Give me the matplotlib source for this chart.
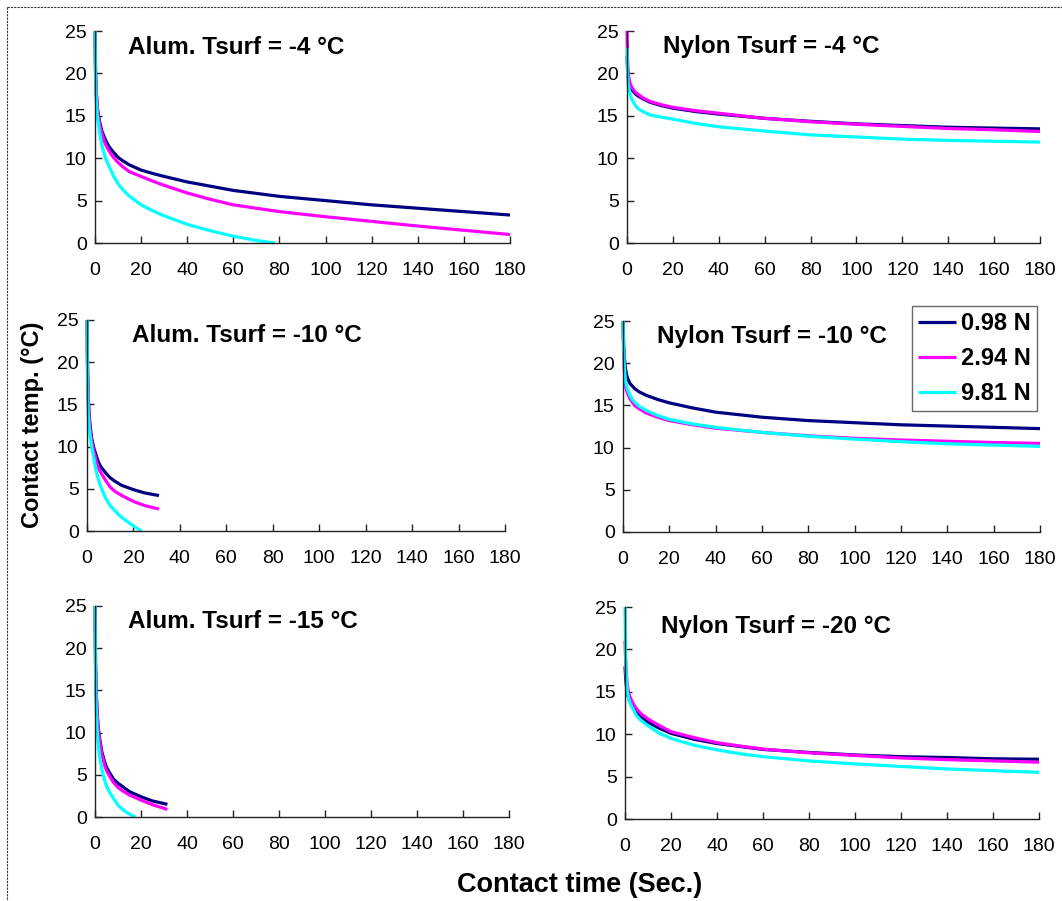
import matplotlib
matplotlib.use('Agg')
import matplotlib.pyplot as plt
from matplotlib.lines import Line2D

plt.rcParams['font.family'] = ['Liberation Sans', 'DejaVu Sans']

W, H = 1062, 901

loads = ['0.98 N', '2.94 N', '9.81 N']
colors = ['#000080', '#FF00FF', '#00FFFF']

# Aluminium, Tsurf = -4 C
t_al4 = [0, 0.25, 0.5, 1, 1.5, 2, 3, 4, 5, 6, 8, 10, 12, 15, 20, 25, 30, 40, 50, 60, 70, 80, 90, 100, 120, 140, 160, 180]
al4_098 = [25, 20, 18, 16.0, 15.0, 14.3, 13.2, 12.5, 11.9, 11.4, 10.7, 10.1, 9.7, 9.2, 8.6, 8.2, 7.85, 7.2, 6.7, 6.2, 5.85, 5.5, 5.25, 5.0, 4.5, 4.1, 3.7, 3.3]
al4_294 = [25, 20, 18, 15.8, 14.8, 14.0, 12.9, 12.0, 11.4, 10.9, 10.1, 9.5, 9.0, 8.4, 7.85, 7.3, 6.8, 5.9, 5.15, 4.5, 4.1, 3.7, 3.4, 3.1, 2.55, 2.0, 1.5, 1.0]
t_al4_c = [0, 0.25, 0.5, 1, 1.5, 2, 3, 4, 5, 6, 8, 10, 12, 15, 20, 25, 30, 40, 50, 60, 70, 78]
al4_981 = [25, 19, 17, 15, 14, 13, 11.5, 10.5, 9.7, 9.1, 7.9, 7.0, 6.3, 5.5, 4.5, 3.8, 3.2, 2.2, 1.45, 0.8, 0.3, 0]

# Nylon, Tsurf = -4 C
t_ny4 = [0, 0.25, 0.5, 1, 1.5, 2, 3, 4, 5, 7, 10, 15, 20, 30, 40, 50, 60, 80, 100, 120, 140, 160, 180]
ny4_098 = [22, 20.5, 19.5, 18.8, 18.4, 18.1, 17.8, 17.5, 17.3, 17.0, 16.6, 16.2, 15.9, 15.5, 15.2, 14.95, 14.7, 14.35, 14.05, 13.85, 13.65, 13.55, 13.46]
ny4_294 = [25, 21.5, 20, 19.2, 18.7, 18.4, 18.0, 17.7, 17.5, 17.1, 16.7, 16.3, 16.0, 15.6, 15.3, 15.0, 14.7, 14.3, 14.0, 13.75, 13.5, 13.35, 13.15]
ny4_981 = [23, 20, 18.8, 18.0, 17.4, 17.0, 16.5, 16.1, 15.8, 15.5, 15.1, 14.85, 14.6, 14.1, 13.7, 13.45, 13.2, 12.75, 12.5, 12.25, 12.1, 12.0, 11.9]

# Aluminium, Tsurf = -10 C
t_al10 = [0, 0.25, 0.5, 1, 1.5, 2, 3, 4, 5, 6, 8, 10, 12, 15, 20, 25, 31]
al10_098 = [25, 19, 16, 13.5, 12.1, 11.0, 9.8, 8.9, 8.1, 7.6, 6.9, 6.3, 5.9, 5.4, 4.9, 4.5, 4.2]
al10_294 = [25, 19, 16, 13, 11.7, 10.7, 9.4, 8.3, 7.4, 6.9, 6.0, 5.2, 4.7, 4.2, 3.5, 3.0, 2.6]
t_al10_c = [0, 0.25, 0.5, 1, 1.5, 2, 3, 4, 5, 6, 8, 10, 12, 15, 20, 23.5]
al10_981 = [25, 17, 14, 12, 11, 10, 8.5, 7.1, 6.0, 5.2, 3.9, 3.0, 2.4, 1.6, 0.6, 0]

# Nylon, Tsurf = -10 C
t_ny10 = [0, 0.25, 0.5, 1, 1.5, 2, 3, 4, 5, 7, 10, 15, 20, 30, 40, 50, 60, 80, 100, 120, 140, 160, 180]
ny10_098 = [25, 22.5, 21, 19.5, 18.7, 18.2, 17.6, 17.3, 17.0, 16.6, 16.2, 15.7, 15.3, 14.7, 14.2, 13.9, 13.6, 13.2, 12.95, 12.7, 12.55, 12.4, 12.25]
ny10_294 = [25, 21.5, 19.5, 17.4, 16.8, 16.4, 15.8, 15.4, 15.0, 14.6, 14.1, 13.6, 13.2, 12.7, 12.3, 12.05, 11.8, 11.4, 11.1, 10.9, 10.75, 10.6, 10.5]
ny10_981 = [25, 22, 20, 18.0, 17.3, 16.9, 16.2, 15.7, 15.4, 14.9, 14.4, 13.8, 13.35, 12.8, 12.4, 12.1, 11.8, 11.35, 11.0, 10.7, 10.45, 10.3, 10.15]

# Aluminium, Tsurf = -15 C
t_al15 = [0, 0.25, 0.5, 1, 1.5, 2, 3, 4, 5, 6, 8, 10, 12, 15, 20, 25, 31.5]
al15_098 = [25, 18, 15, 12, 10.4, 9.3, 7.7, 6.7, 5.9, 5.4, 4.5, 4.0, 3.6, 3.0, 2.4, 1.9, 1.5]
al15_294 = [25, 18, 15, 11.8, 10.2, 9.0, 7.4, 6.3, 5.5, 5.0, 4.1, 3.5, 3.1, 2.6, 2.0, 1.45, 0.9]
t_al15_c = [0, 0.25, 0.5, 1, 1.5, 2, 3, 4, 5, 6, 8, 10, 12, 14, 16, 17.5]
al15_981 = [25, 16, 13, 10, 8.4, 7.2, 5.6, 4.5, 3.7, 3.1, 2.2, 1.4, 0.9, 0.5, 0.2, 0]

# Nylon, Tsurf = -20 C
t_ny20 = [0, 0.25, 0.5, 1, 1.5, 2, 3, 4, 5, 7, 10, 15, 20, 30, 40, 50, 60, 80, 100, 120, 140, 160, 180]
ny20_098 = [18, 16.8, 16, 14.8, 14.3, 13.9, 13.4, 13.0, 12.7, 12.1, 11.4, 10.7, 10.1, 9.4, 8.9, 8.55, 8.2, 7.85, 7.55, 7.35, 7.25, 7.1, 7.05]
ny20_294 = [21, 19, 17.5, 15.8, 15.0, 14.5, 13.9, 13.4, 13.0, 12.4, 11.8, 11.0, 10.3, 9.6, 9.0, 8.6, 8.25, 7.8, 7.5, 7.2, 7.0, 6.85, 6.7]
ny20_981 = [25, 19, 17, 15.0, 14.3, 13.8, 13.2, 12.7, 12.2, 11.6, 11.0, 10.1, 9.5, 8.7, 8.15, 7.7, 7.35, 6.85, 6.5, 6.2, 5.9, 5.7, 5.5]

titles = ['Alum. Tsurf = -4 \u00b0C', 'Nylon Tsurf = -4 \u00b0C',
          'Alum. Tsurf = -10 \u00b0C', 'Nylon Tsurf = -10 \u00b0C',
          'Alum. Tsurf = -15 \u00b0C', 'Nylon Tsurf = -20 \u00b0C']

series = [
    [(t_al4, al4_098), (t_al4, al4_294), (t_al4_c, al4_981)],
    [(t_ny4, ny4_098), (t_ny4, ny4_294), (t_ny4, ny4_981)],
    [(t_al10, al10_098), (t_al10, al10_294), (t_al10_c, al10_981)],
    [(t_ny10, ny10_098), (t_ny10, ny10_294), (t_ny10, ny10_981)],
    [(t_al15, al15_098), (t_al15, al15_294), (t_al15_c, al15_981)],
    [(t_ny20, ny20_098), (t_ny20, ny20_294), (t_ny20, ny20_981)],
]

# panel boxes in pixels: x at t=0, x at t=180, y at T=0, y at T=25
boxes = [(95, 510, 243, 31), (627, 1040, 243, 31),
         (87, 505, 531, 320), (623, 1040, 532, 321),
         (95, 509, 817, 606), (625, 1039, 819, 607)]
# title anchor (left x, centre y) in pixels
title_pos = [(128, 47), (663, 47), (132, 335), (657, 336), (128, 621), (661, 627)]

fig = plt.figure(figsize=(W / 100, H / 100), dpi=100)

handles = []
for i in range(6):
    x0, x1, y0, y25 = boxes[i]
    ax = fig.add_axes([x0 / W, 1 - y0 / H, (x1 - x0) / W, (y0 - y25) / H])
    for (t, v), c, lab in zip(series[i], colors, loads):
        ln, = ax.plot(t, v, color=c, lw=2.3, label=lab, clip_on=False,
                      solid_capstyle='butt', solid_joinstyle='round')
        if i == 0:
            handles.append(ln)
    ax.set_xlim(0, 180)
    ax.set_ylim(0, 25)
    ax.set_xticks(range(0, 181, 20))
    ax.set_yticks(range(0, 26, 5))
    ax.spines['top'].set_visible(False)
    ax.spines['right'].set_visible(False)
    for s in ('left', 'bottom'):
        ax.spines[s].set_linewidth(1.0)
        ax.spines[s].set_color('#222222')
    ax.tick_params(axis='both', direction='in', length=5, width=1, color='#222222',
                   labelsize=14, labelcolor='black')
    ax.tick_params(axis='x', pad=14)
    ax.tick_params(axis='y', pad=6)
    tx, ty = title_pos[i]
    fig.text(tx / W, 1 - ty / H, titles[i], fontsize=17.5, fontweight='bold',
             ha='left', va='center')

fig.legend(handles, loads, loc='upper left', bbox_to_anchor=(912 / W, 1 - 306 / H),
           borderaxespad=0, frameon=True, fancybox=False, edgecolor='#444444',
           prop={'weight': 'bold', 'size': 17}, handlelength=1.6, handletextpad=0.2,
           borderpad=0.27, labelspacing=0.5)

fig.text(33 / W, 1 - 425 / H, 'Contact temp. (\u00b0C)', rotation=90, fontsize=17,
         fontweight='bold', ha='center', va='center')
fig.text(580 / W, 1 - 885 / H, 'Contact time (Sec.)', fontsize=19.5,
         fontweight='bold', ha='center', va='center')

# dashed frame along the top and left edges
fig.add_artist(Line2D([7 / W, 1], [1 - 7 / H, 1 - 7 / H], transform=fig.transFigure,
                      color='#333333', lw=0.8, ls=(0, (2, 1))))
fig.add_artist(Line2D([7 / W, 7 / W], [1 - 7 / H, 0], transform=fig.transFigure,
                      color='#333333', lw=0.8, ls=(0, (2, 1))))

fig.savefig('out.png', dpi=100)
